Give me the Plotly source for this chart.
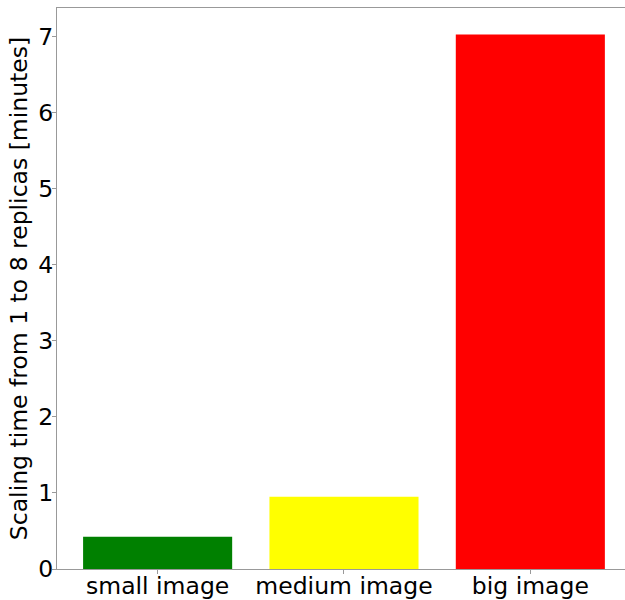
import plotly.graph_objects as go

categories = ["small image", "medium image", "big image"]
values = [0.425, 0.95, 7.03]
colors = ["#008000", "#ffff00", "#ff0000"]
y_ticks = [0, 1, 2, 3, 4, 5, 6, 7]

fig = go.Figure(go.Bar(
    x=list(range(len(categories))), y=values, width=0.8,
    marker=dict(color=colors, line=dict(width=0)),
))
fig.update_layout(
    width=625, height=600,
    margin=dict(l=57, r=0, t=8, b=31),
    paper_bgcolor="white", plot_bgcolor="white",
    font=dict(family="DejaVu Sans", size=23.5, color="black"),
    showlegend=False,
    xaxis=dict(
        range=[-0.54, 2.508], tickmode="array", tickvals=list(range(len(categories))),
        ticktext=categories, showgrid=False, zeroline=False, automargin=False,
        showline=True, mirror=True, linecolor="#999999", linewidth=1.2,
        ticks="outside", ticklen=4, tickcolor="#999999",
        tickfont=dict(size=23.5), ticklabelstandoff=-8,
    ),
    yaxis=dict(
        range=[0, 7.38], tickmode="array", tickvals=y_ticks,
        showgrid=False, zeroline=False, automargin=False,
        showline=True, mirror=False, linecolor="#999999", linewidth=1.2,
        ticks="outside", ticklen=4, tickcolor="#999999",
        tickfont=dict(size=23.5), ticklabelstandoff=-6,
        title=dict(text="Scaling time from 1 to 8 replicas [minutes]", font=dict(size=23.5), standoff=4),
    ),
)
fig.write_html(
    "out.html",
    config={"displayModeBar": False},
    post_script="document.body.style.margin='0';document.body.style.overflow='hidden';",
)
